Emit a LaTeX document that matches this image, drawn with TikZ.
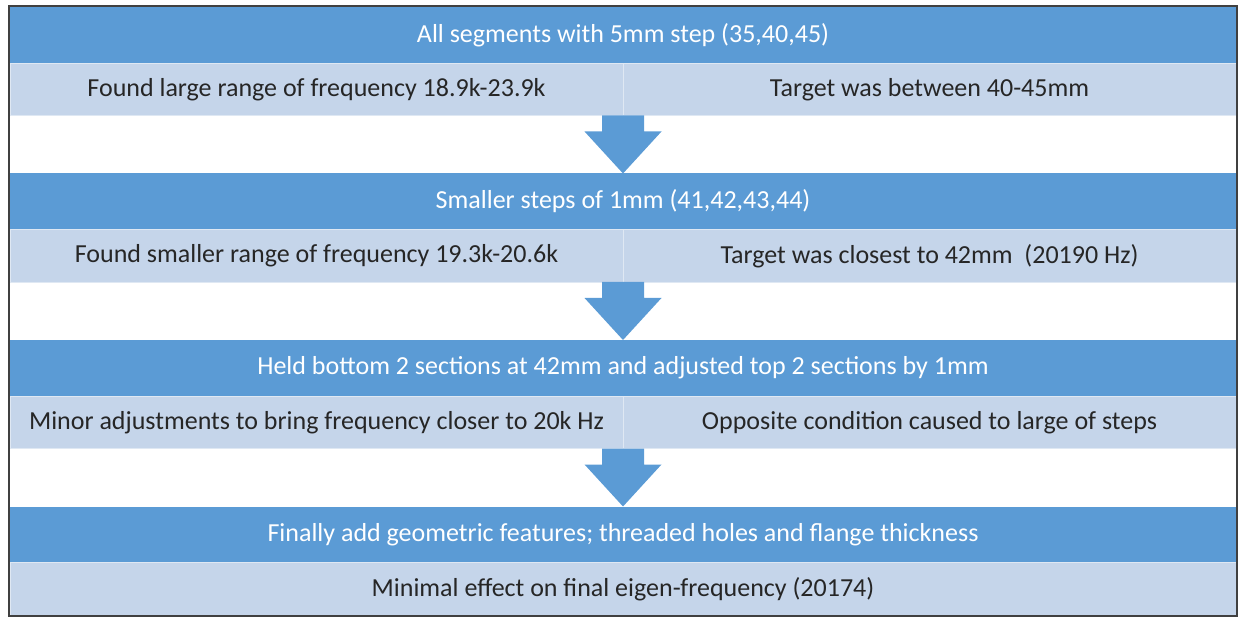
\documentclass[tikz,border=0pt]{standalone}
\usepackage{fontspec}
\setmainfont{Carlito}
\usepackage{tikz}
\usetikzlibrary{positioning,calc}
\definecolor{headblue}{HTML}{5B9BD5}
\definecolor{cellblue}{HTML}{C5D5EA}
\definecolor{celltext}{HTML}{262626}
\tikzset{
  header/.style={fill=headblue, text=white, minimum width=1226pt, minimum height=56pt, inner sep=0pt, outer sep=0pt, font=\fontsize{26}{30}\selectfont},
  halfcell/.style={draw=white!45!cellblue, line width=0.8pt, fill=cellblue, text=celltext, minimum width=613pt, minimum height=52.5pt, inner sep=0pt, outer sep=0pt, font=\fontsize{26}{30}\selectfont},
  fullcell/.style={halfcell, minimum width=1226pt},
  flowarrow/.style={fill=headblue, draw=none}
}

\begin{document}
\begin{tikzpicture}[x=1pt, y=1pt]
        \useasboundingbox (0,0) rectangle (1239,-617);

        % First pass, coarse steps
        \node[header] (head1) at (623,-35) {All segments with 5mm step (35,40,45)};
        \node[halfcell, below left=0pt of head1.south] (left1) {Found large range of frequency 18.9k-23.9k};
        \node[halfcell, below right=0pt of head1.south] (right1) {Target was between 40-45mm};

        % Second pass, 1mm steps
        \node[header, below=58pt of left1.south east] (head2) {Smaller steps of 1mm (41,42,43,44)};
        \node[halfcell, below left=0pt of head2.south] (left2) {Found smaller range of frequency 19.3k-20.6k};
        \node[halfcell, below right=0pt of head2.south] (right2) {Target was closest to 42mm~~(20190 Hz)};

        % Third pass, top sections only
        \node[header, below=58pt of left2.south east] (head3) {Held bottom 2 sections at 42mm and adjusted top 2 sections by 1mm};
        \node[halfcell, below left=0pt of head3.south] (left3) {Minor adjustments to bring frequency closer to 20k Hz};
        \node[halfcell, below right=0pt of head3.south] (right3) {Opposite condition caused to large of steps};

        % Final geometry
        \node[header, below=58pt of left3.south east] (head4) {Finally add geometric features; threaded holes and flange thickness};
        \node[fullcell, below=0pt of head4.south] (result) {Minimal effect on final eigen-frequency (20174)};

        % Block arrows between the passes
        \fill[flowarrow, shift={(left1.south east)}] (-21,0) -- (21,0) -- (21,-16) -- (38.5,-16) -- (head2.north) -- (-38.5,-16) -- (-21,-16) -- cycle;
        \fill[flowarrow, shift={(left2.south east)}] (-21,0) -- (21,0) -- (21,-16) -- (38.5,-16) -- (head3.north) -- (-38.5,-16) -- (-21,-16) -- cycle;
        \fill[flowarrow, shift={(left3.south east)}] (-21,0) -- (21,0) -- (21,-16) -- (38.5,-16) -- (head4.north) -- (-38.5,-16) -- (-21,-16) -- cycle;

        % Outer frame
        \draw[black!75, line width=1.5pt] ($(head1.north west)+(-1,1)$) rectangle ($(result.south east)+(1,-1)$);
    \end{tikzpicture}
\end{document}
